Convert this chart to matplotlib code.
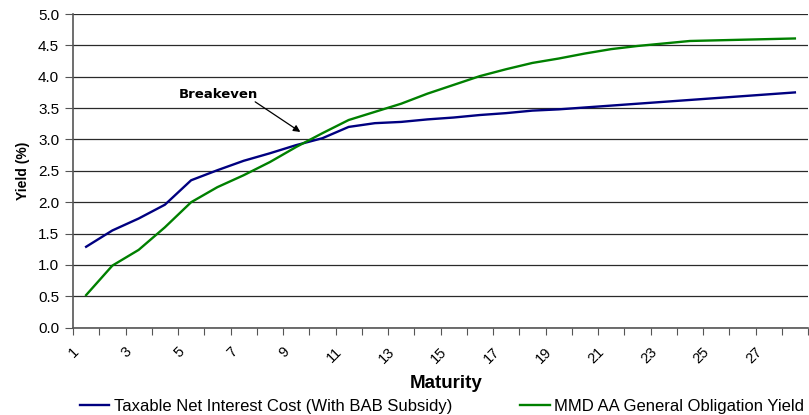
import numpy as np
import matplotlib
matplotlib.use("Agg")
import matplotlib.pyplot as plt
from matplotlib.transforms import ScaledTranslation

plt.rcParams['font.family'] = ['Liberation Sans', 'DejaVu Sans']

# maturities (years) and yields (%)
maturity = list(range(1, 29))
taxable_nic = [1.29, 1.55, 1.74, 1.96, 2.35, 2.51, 2.66, 2.78, 2.91, 3.02,
               3.20, 3.26, 3.28, 3.32, 3.35, 3.39, 3.42, 3.46, 3.48, 3.51,
               3.54, 3.57, 3.60, 3.63, 3.66, 3.69, 3.72, 3.75]
mmd_go = [0.52, 0.99, 1.24, 1.60, 2.00, 2.24, 2.43, 2.64, 2.88, 3.10,
          3.31, 3.44, 3.57, 3.73, 3.87, 4.01, 4.12, 4.22, 4.29, 4.37,
          4.44, 4.49, 4.53, 4.57, 4.58, 4.59, 4.60, 4.61]
yticks = [0.0, 0.5, 1.0, 1.5, 2.0, 2.5, 3.0, 3.5, 4.0, 4.5, 5.0]

W, H = 809, 415
fig = plt.figure(figsize=(W / 100, H / 100), dpi=100)
ax = fig.add_axes([73 / W, 1 - 327.7 / H, (808 - 73) / W, (327.7 - 14) / H])

ax.plot(maturity, taxable_nic, color='#000080', lw=1.7,
        label='Taxable Net Interest Cost (With BAB Subsidy)', solid_joinstyle='round')
ax.plot(maturity, mmd_go, color='#008000', lw=1.7,
        label='MMD AA General Obligation Yield', solid_joinstyle='round')

ax.set_xlim(0.5, 28.06)
ax.set_ylim(0, 5)

# y axis
ax.set_yticks(yticks)
ax.set_yticklabels(['%.1f' % v for v in yticks], fontsize=11)
ax.yaxis.grid(True, color='#2a2a2a', lw=0.9)
ax.set_axisbelow(True)

# x axis: tick marks between categories, labels on odd categories
ax.set_xticks(np.arange(0.5, 28.6, 1.0))
ax.set_xticklabels([])
odd = [m for m in maturity if m % 2 == 1]
ax.set_xticks(odd, minor=True)
ax.set_xticklabels([str(m) for m in odd], minor=True, rotation=45,
                   ha='right', va='top', fontsize=10.5)
ax.tick_params(axis='x', which='minor', length=0, pad=12)
ax.tick_params(axis='x', which='major', length=5, color='#555555', direction='out')
ax.tick_params(axis='y', length=6, color='#555555', direction='out', pad=4)
shift = ScaledTranslation(-4 / 100, 0, fig.dpi_scale_trans)
for lab in ax.get_xticklabels(minor=True):
    lab.set_transform(lab.get_transform() + shift)

for s in ['top', 'right']:
    ax.spines[s].set_visible(False)
ax.spines['left'].set_color('#555555')
ax.spines['bottom'].set_color('#555555')
ax.spines['left'].set_linewidth(1.2)
ax.spines['bottom'].set_linewidth(1.2)

ax.set_ylabel('Yield (%)', fontsize=10, fontweight='bold', labelpad=6)
fig.text(446 / W, 1 - 383 / H, 'Maturity', fontsize=13.5, fontweight='bold',
         ha='center', va='center')

# breakeven callout
ax.text(6.05, 3.71, 'Breakeven', fontsize=9.5, fontweight='bold',
        fontfamily='DejaVu Sans', ha='center', va='center')
ax.annotate('', xy=(9.16, 3.12), xytext=(7.44, 3.60),
            arrowprops=dict(arrowstyle='-|>', color='black', lw=0.9,
                            shrinkA=0, shrinkB=0, mutation_scale=10))

fig.legend(loc='center', bbox_to_anchor=(442 / W, 1 - 406 / H), ncol=2,
           frameon=False, fontsize=12, handlelength=1.75, columnspacing=4.1,
           handletextpad=0.25, borderpad=0.1)

fig.savefig('out.png', dpi=100)
